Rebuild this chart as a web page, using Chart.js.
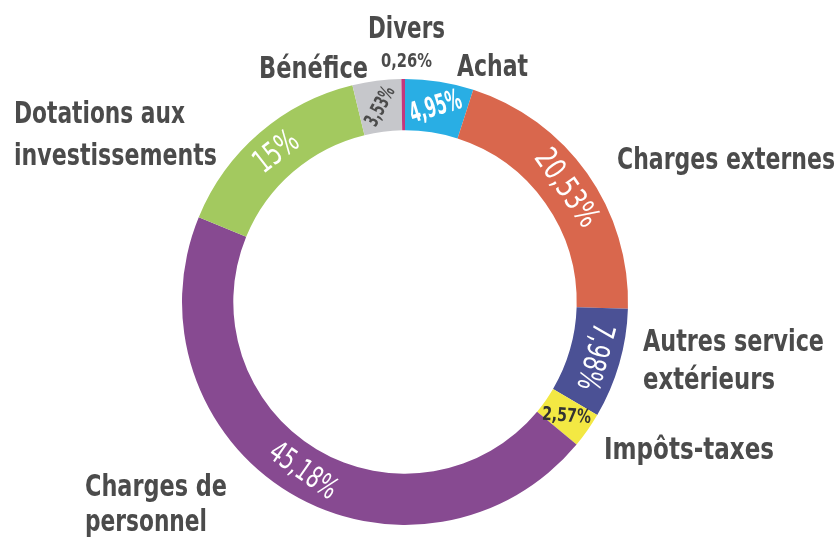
<!DOCTYPE html>
<html>
<head>
<meta charset="utf-8">
<script src="https://cdn.jsdelivr.net/npm/chart.js@4/dist/chart.umd.min.js"></script>
<style>
  html, body { margin: 0; padding: 0; background: #ffffff; }
  #wrap { position: relative; width: 840px; height: 537px; }
</style>
</head>
<body>
<div id="wrap"><canvas id="c" width="840" height="537"></canvas></div>
<script>
// ---- data ----
const categories = ["Achat", "Charges externes", "Autres service extérieurs", "Impôts-taxes",
                    "Charges de personnel", "Dotations aux investissements", "Bénéfice", "Divers"];
const values = [4.95, 20.53, 7.98, 2.57, 45.18, 15, 3.53, 0.26];
const valueLabels = values.map(v => String(v).replace('.', ',') + '%');

// ---- styles ----
const colors = ['#29aee4', '#d9674d', '#4b5195', '#f3e843', '#874a91', '#a3c95f', '#c6c7cb', '#c4367d'];
const FONT = "'DejaVu Sans Condensed', 'Liberation Sans Narrow', 'DejaVu Sans', sans-serif";
const TEXT = '#4b4b4b';
// inner label styles: rotation (deg), font size, weight, max width, colour
const inner = [
  { rot: -17, size: 28, weight: 'bold',   w: 53, color: '#ffffff' },
  { rot: 55,  size: 31, weight: '500',    w: 88, color: '#ffffff' },
  { rot: 105, size: 31, weight: '500',    w: 68, color: '#ffffff' },
  { rot: 4,   size: 19, weight: 'bold',   w: 49, color: '#333333' },
  { rot: 35,  size: 30, weight: '500',    w: 76, color: '#ffffff' },
  { rot: -38, size: 32, weight: '500',    w: 48, color: '#ffffff' },
  { rot: -62, size: 20, weight: 'bold',   w: 42, color: '#4b4b4b' },
  null
];
// outside category labels: lines with left x, baseline y, max width
const outside = [
  [{ t: 'Achat', x: 457, y: 76, w: 71 }],
  [{ t: 'Charges externes', x: 617, y: 169, w: 218 }],
  [{ t: 'Autres service', x: 643, y: 351, w: 181 }, { t: 'extérieurs', x: 643, y: 389, w: 132 }],
  [{ t: 'Impôts-taxes', x: 604, y: 459, w: 170 }],
  [{ t: 'Charges de', x: 85, y: 496, w: 142 }, { t: 'personnel', x: 85, y: 531, w: 122 }],
  [{ t: 'Dotations aux', x: 14, y: 123, w: 171 }, { t: 'investissements', x: 14, y: 165, w: 203 }],
  [{ t: 'Bénéfice', x: 259, y: 78, w: 109 }],
  [{ t: 'Divers', x: 368, y: 38, w: 77 }]
];
// small value label placed outside for the tiny slice
const outsideValue = { index: 7, x: 381, y: 67, w: 51, size: 19 };

const labelPlugin = {
  id: 'ringLabels',
  afterDatasetsDraw(chart) {
    const ctx = chart.ctx;
    const meta = chart.getDatasetMeta(0);
    ctx.save();
    meta.data.forEach((arc, i) => {
      const st = inner[i];
      if (!st) return;
      const p = arc.getProps(['x', 'y', 'startAngle', 'endAngle', 'innerRadius', 'outerRadius'], true);
      const a = (p.startAngle + p.endAngle) / 2;
      const r = (p.innerRadius + p.outerRadius) / 2;
      const cx = p.x + r * Math.cos(a);
      const cy = p.y + r * Math.sin(a);
      ctx.save();
      ctx.translate(cx, cy);
      ctx.rotate(st.rot * Math.PI / 180);
      ctx.font = st.weight + ' ' + st.size + 'px ' + FONT;
      ctx.fillStyle = st.color;
      ctx.textAlign = 'center';
      ctx.textBaseline = 'middle';
      ctx.fillText(valueLabels[i], 0, 1, st.w);
      ctx.restore();
    });
    // outside category labels
    ctx.fillStyle = TEXT;
    ctx.textAlign = 'left';
    ctx.textBaseline = 'alphabetic';
    ctx.font = 'bold 31px ' + FONT;
    outside.forEach(lines => lines.forEach(l => ctx.fillText(l.t, l.x, l.y, l.w)));
    // tiny slice value
    ctx.font = 'bold ' + outsideValue.size + 'px ' + FONT;
    ctx.fillText(valueLabels[outsideValue.index], outsideValue.x, outsideValue.y, outsideValue.w);
    ctx.restore();
  }
};

new Chart(document.getElementById('c'), {
  type: 'doughnut',
  data: {
    labels: categories,
    datasets: [{ data: values, backgroundColor: colors, borderWidth: 0 }]
  },
  options: {
    responsive: false,
    animation: false,
    cutout: '77%',
    layout: { padding: { left: 182, right: 212, top: 79, bottom: 12 } },
    plugins: { legend: { display: false }, tooltip: { enabled: false } }
  },
  plugins: [labelPlugin]
});
</script>
</body>
</html>
